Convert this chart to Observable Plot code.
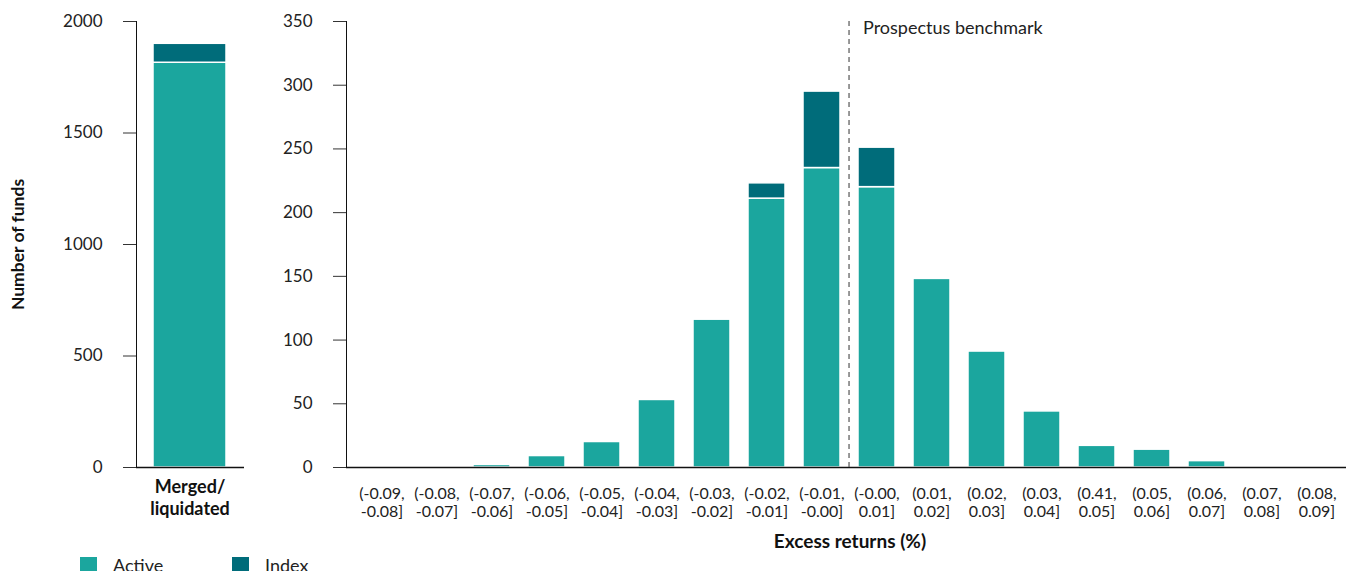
<!DOCTYPE html>
<html>
<head>
<meta charset="utf-8">
<script src="https://cdn.jsdelivr.net/npm/d3@7"></script>
<script src="https://cdn.jsdelivr.net/npm/@observablehq/plot@0.6"></script>
<style>
  body { margin: 0; background: #fff; font-family: Lato, sans-serif; }
  #wrap { position: relative; width: 1346px; height: 571px; overflow: hidden; background: #fff; }
  #left { position: absolute; left: 0; top: 0; width: 280px; }
  #right { position: absolute; left: 280px; top: 0; width: 1074px; }
  #left svg, #right svg { max-width: none !important; }
  .sw { position: absolute; width: 17px; height: 17px; top: 557px; }
  .lt { position: absolute; top: 554px; font-size: 18px; line-height: 22px; color: #222; }
</style>
</head>
<body>
<div id="wrap">
  <div id="left"></div>
  <div id="right"></div>
  <div id="legend"></div>
</div>
<script>
// ---- data ----
const categories = [
  "(-0.09, -0.08]", "(-0.08, -0.07]", "(-0.07, -0.06]", "(-0.06, -0.05]", "(-0.05, -0.04]",
  "(-0.04, -0.03]", "(-0.03, -0.02]", "(-0.02, -0.01]", "(-0.01, -0.00]", "(-0.00, 0.01]",
  "(0.01, 0.02]", "(0.02, 0.03]", "(0.03, 0.04]", "(0.41, 0.05]", "(0.05, 0.06]",
  "(0.06, 0.07]", "(0.07, 0.08]", "(0.08, 0.09]"
];
const activeValues = [0, 0, 2, 9, 20, 53, 116, 211, 235, 220, 148, 91, 44, 17, 14, 5, 0, 0];
const indexValues  = [0, 0, 0, 0, 0, 0, 0, 12, 60, 31, 0, 0, 0, 0, 0, 0, 0, 0];
const mergedCategory = "Merged/ liquidated";
const mergedActive = 1815;
const mergedIndex = 85;
const leftTicks = [0, 500, 1000, 1500, 2000];
const rightTicks = [0, 50, 100, 150, 200, 250, 300, 350];
const seriesNames = ["Active", "Index"];
const seriesColors = ["#1ba69e", "#006c7a"];
const benchmarkLabel = "Prospectus benchmark";
const benchmarkAfter = "(-0.00, 0.01]";
const xTitle = "Excess returns (%)";
const yTitle = "Number of funds";

// ---- tables ----
const rightRows = categories.flatMap((c, i) => [
  {category: c, series: "Active", value: activeValues[i]},
  {category: c, series: "Index", value: indexValues[i]}
]);
const leftRows = [
  {category: mergedCategory, series: "Active", value: mergedActive},
  {category: mergedCategory, series: "Index", value: mergedIndex}
];

const font = "Lato, sans-serif";
const H = 550, MT = 21, MB = 83;

const left = Plot.plot({
  width: 280, height: H, marginTop: MT, marginBottom: MB, marginLeft: 136, marginRight: 36,
  style: {fontFamily: font, fontSize: "17px", color: "#222", background: "transparent", overflow: "visible"},
  x: {domain: [mergedCategory], paddingInner: 0.32, paddingOuter: 0.16, axis: null},
  y: {domain: [0, 2000], axis: null},
  color: {domain: seriesNames, range: seriesColors},
  marks: [
    Plot.barY(leftRows, {x: "category", y: "value", fill: "series", stroke: "white", strokeWidth: 1.5, order: seriesNames}),
    Plot.frame({anchor: "left", stroke: "#111"}),
    Plot.ruleY([0], {stroke: "#111", strokeWidth: 1.5}),
    Plot.axisY({ticks: leftTicks, tickFormat: "d", tickSize: 13, tickPadding: 21, label: null, fontSize: 17, stroke: "#333"}),
    Plot.axisX({tickSize: 0, tickPadding: 10, fontSize: 18, fontWeight: 700, lineHeight: 1.22,
      tickFormat: d => d.replace(" ", "\n"), label: null, fill: "#111"}),
    Plot.text([yTitle], {frameAnchor: "left", dx: -118, rotate: -90, textAnchor: "middle", lineAnchor: "middle",
      fontWeight: 700, fontSize: 17.5, fill: "#111"})
  ]
});
document.getElementById("left").appendChild(left);

const RW = 1074, RML = 66, RMR = 1;
const step = (RW - RML - RMR) / categories.length;
const right = Plot.plot({
  width: RW, height: H, marginTop: MT, marginBottom: MB, marginLeft: RML, marginRight: RMR,
  style: {fontFamily: font, fontSize: "17px", color: "#222", background: "transparent", overflow: "visible"},
  x: {domain: categories, paddingInner: 0.32, paddingOuter: 0.16, axis: null},
  y: {domain: [0, 350], axis: null},
  color: {domain: seriesNames, range: seriesColors},
  marks: [
    Plot.barY(rightRows, {x: "category", y: "value", fill: "series", stroke: "white", strokeWidth: 1.5, order: seriesNames}),
    Plot.frame({anchor: "left", stroke: "#111"}),
    Plot.ruleY([0], {stroke: "#111", strokeWidth: 1.5}),
    Plot.axisY({ticks: rightTicks, tickFormat: "d", tickSize: 13, tickPadding: 21, label: null, fontSize: 17, stroke: "#333"}),
    Plot.axisX({tickSize: 0, tickPadding: 19, fontSize: 16, lineHeight: 1.12,
      tickFormat: d => d.replace(", ", ",\n"), label: null, fill: "#222"}),
    Plot.ruleX([benchmarkAfter], {x: d => d, dx: -step / 2, stroke: "#555", strokeDasharray: "5,4", strokeWidth: 1.2}),
    Plot.text([benchmarkLabel], {x: () => benchmarkAfter, frameAnchor: "top", dx: -step / 2 + 14, dy: 0,
      textAnchor: "start", fontSize: 18, fill: "#222"}),
    Plot.text([xTitle], {frameAnchor: "bottom", dy: 80, fontWeight: 700, fontSize: 19, fill: "#111"})
  ]
});
document.getElementById("right").appendChild(right);

// ---- legend ----
const legend = document.getElementById("legend");
const legendPos = [{sw: 80, tx: 113}, {sw: 232, tx: 265}];
seriesNames.forEach((name, i) => {
  const s = document.createElement("div");
  s.className = "sw"; s.style.left = legendPos[i].sw + "px"; s.style.background = seriesColors[i];
  const t = document.createElement("div");
  t.className = "lt"; t.style.left = legendPos[i].tx + "px"; t.textContent = name;
  legend.appendChild(s); legend.appendChild(t);
});
</script>
</body>
</html>
